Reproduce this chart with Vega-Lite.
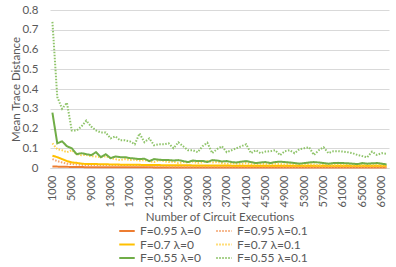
{
  "$schema": "https://vega.github.io/schema/vega-lite/v6.json",
  "autosize": "none",
  "width": 339,
  "height": 158,
  "padding": {"left": 50, "top": 10, "right": 7, "bottom": 99},
  "background": "white",
  "config": {"font": "Lato", "view": {"stroke": null}},
  "data": {"values": [
    {"n":1000,"a":0.008,"b":0.045,"c":0.062,"d":0.125,"e":0.28,"f":0.74},
    {"n":2000,"a":0.007,"b":0.035,"c":0.055,"d":0.095,"e":0.125,"f":0.36},
    {"n":3000,"a":0.006,"b":0.028,"c":0.045,"d":0.09,"e":0.135,"f":0.30},
    {"n":4000,"a":0.006,"b":0.022,"c":0.035,"d":0.08,"e":0.11,"f":0.33},
    {"n":5000,"a":0.005,"b":0.02,"c":0.028,"d":0.09,"e":0.10,"f":0.19},
    {"n":6000,"a":0.005,"b":0.018,"c":0.026,"d":0.07,"e":0.07,"f":0.19},
    {"n":7000,"a":0.005,"b":0.016,"c":0.022,"d":0.065,"e":0.075,"f":0.21},
    {"n":8000,"a":0.004,"b":0.015,"c":0.02,"d":0.066,"e":0.07,"f":0.24},
    {"n":9000,"a":0.004,"b":0.015,"c":0.02,"d":0.06,"e":0.065,"f":0.21},
    {"n":10000,"a":0.004,"b":0.014,"c":0.02,"d":0.058,"e":0.08,"f":0.19},
    {"n":11000,"a":0.004,"b":0.013,"c":0.019,"d":0.055,"e":0.055,"f":0.18},
    {"n":12000,"a":0.004,"b":0.013,"c":0.019,"d":0.06,"e":0.07,"f":0.18},
    {"n":13000,"a":0.004,"b":0.012,"c":0.018,"d":0.05,"e":0.05,"f":0.15},
    {"n":14000,"a":0.004,"b":0.012,"c":0.018,"d":0.045,"e":0.058,"f":0.16},
    {"n":15000,"a":0.004,"b":0.011,"c":0.017,"d":0.04,"e":0.055,"f":0.14},
    {"n":16000,"a":0.004,"b":0.011,"c":0.017,"d":0.045,"e":0.055,"f":0.14},
    {"n":17000,"a":0.004,"b":0.01,"c":0.016,"d":0.04,"e":0.05,"f":0.135},
    {"n":18000,"a":0.004,"b":0.01,"c":0.016,"d":0.042,"e":0.048,"f":0.12},
    {"n":19000,"a":0.004,"b":0.01,"c":0.016,"d":0.038,"e":0.045,"f":0.175},
    {"n":20000,"a":0.004,"b":0.01,"c":0.015,"d":0.04,"e":0.047,"f":0.13},
    {"n":21000,"a":0.004,"b":0.009,"c":0.015,"d":0.035,"e":0.035,"f":0.15},
    {"n":22000,"a":0.003,"b":0.009,"c":0.015,"d":0.03,"e":0.045,"f":0.115},
    {"n":23000,"a":0.003,"b":0.009,"c":0.015,"d":0.04,"e":0.042,"f":0.12},
    {"n":24000,"a":0.003,"b":0.009,"c":0.014,"d":0.035,"e":0.04,"f":0.12},
    {"n":25000,"a":0.003,"b":0.008,"c":0.014,"d":0.03,"e":0.04,"f":0.125},
    {"n":26000,"a":0.003,"b":0.008,"c":0.014,"d":0.032,"e":0.038,"f":0.10},
    {"n":27000,"a":0.003,"b":0.008,"c":0.014,"d":0.025,"e":0.04,"f":0.13},
    {"n":28000,"a":0.003,"b":0.008,"c":0.014,"d":0.03,"e":0.035,"f":0.11},
    {"n":29000,"a":0.003,"b":0.008,"c":0.014,"d":0.028,"e":0.03,"f":0.09},
    {"n":30000,"a":0.003,"b":0.008,"c":0.013,"d":0.032,"e":0.038,"f":0.09},
    {"n":31000,"a":0.003,"b":0.008,"c":0.013,"d":0.025,"e":0.035,"f":0.08},
    {"n":32000,"a":0.003,"b":0.008,"c":0.013,"d":0.03,"e":0.036,"f":0.11},
    {"n":33000,"a":0.003,"b":0.008,"c":0.013,"d":0.035,"e":0.03,"f":0.128},
    {"n":34000,"a":0.003,"b":0.007,"c":0.013,"d":0.028,"e":0.04,"f":0.075},
    {"n":35000,"a":0.003,"b":0.007,"c":0.013,"d":0.03,"e":0.038,"f":0.096},
    {"n":36000,"a":0.003,"b":0.007,"c":0.013,"d":0.025,"e":0.033,"f":0.11},
    {"n":37000,"a":0.003,"b":0.007,"c":0.013,"d":0.02,"e":0.035,"f":0.08},
    {"n":38000,"a":0.003,"b":0.007,"c":0.012,"d":0.025,"e":0.03,"f":0.09},
    {"n":39000,"a":0.003,"b":0.007,"c":0.012,"d":0.022,"e":0.028,"f":0.10},
    {"n":40000,"a":0.003,"b":0.007,"c":0.012,"d":0.02,"e":0.032,"f":0.11},
    {"n":41000,"a":0.003,"b":0.007,"c":0.012,"d":0.025,"e":0.035,"f":0.12},
    {"n":42000,"a":0.003,"b":0.007,"c":0.012,"d":0.02,"e":0.03,"f":0.075},
    {"n":43000,"a":0.003,"b":0.007,"c":0.012,"d":0.018,"e":0.025,"f":0.09},
    {"n":44000,"a":0.003,"b":0.007,"c":0.012,"d":0.022,"e":0.028,"f":0.075},
    {"n":45000,"a":0.003,"b":0.007,"c":0.012,"d":0.02,"e":0.03,"f":0.083},
    {"n":46000,"a":0.003,"b":0.007,"c":0.012,"d":0.018,"e":0.025,"f":0.085},
    {"n":47000,"a":0.003,"b":0.007,"c":0.012,"d":0.022,"e":0.03,"f":0.09},
    {"n":48000,"a":0.003,"b":0.007,"c":0.012,"d":0.02,"e":0.032,"f":0.065},
    {"n":49000,"a":0.003,"b":0.006,"c":0.012,"d":0.018,"e":0.03,"f":0.085},
    {"n":50000,"a":0.003,"b":0.006,"c":0.012,"d":0.022,"e":0.028,"f":0.09},
    {"n":51000,"a":0.003,"b":0.006,"c":0.011,"d":0.018,"e":0.025,"f":0.075},
    {"n":52000,"a":0.003,"b":0.006,"c":0.011,"d":0.02,"e":0.022,"f":0.095},
    {"n":53000,"a":0.003,"b":0.006,"c":0.011,"d":0.016,"e":0.025,"f":0.10},
    {"n":54000,"a":0.003,"b":0.006,"c":0.011,"d":0.02,"e":0.028,"f":0.105},
    {"n":55000,"a":0.003,"b":0.006,"c":0.011,"d":0.018,"e":0.03,"f":0.066},
    {"n":56000,"a":0.003,"b":0.006,"c":0.011,"d":0.015,"e":0.028,"f":0.09},
    {"n":57000,"a":0.003,"b":0.006,"c":0.011,"d":0.02,"e":0.025,"f":0.105},
    {"n":58000,"a":0.003,"b":0.006,"c":0.011,"d":0.018,"e":0.022,"f":0.075},
    {"n":59000,"a":0.003,"b":0.006,"c":0.011,"d":0.015,"e":0.025,"f":0.085},
    {"n":60000,"a":0.003,"b":0.006,"c":0.011,"d":0.018,"e":0.026,"f":0.085},
    {"n":61000,"a":0.003,"b":0.006,"c":0.011,"d":0.016,"e":0.025,"f":0.083},
    {"n":62000,"a":0.003,"b":0.006,"c":0.011,"d":0.02,"e":0.024,"f":0.08},
    {"n":63000,"a":0.003,"b":0.006,"c":0.011,"d":0.015,"e":0.022,"f":0.075},
    {"n":64000,"a":0.003,"b":0.006,"c":0.011,"d":0.018,"e":0.02,"f":0.066},
    {"n":65000,"a":0.003,"b":0.006,"c":0.011,"d":0.015,"e":0.025,"f":0.06},
    {"n":66000,"a":0.003,"b":0.006,"c":0.011,"d":0.02,"e":0.022,"f":0.054},
    {"n":67000,"a":0.003,"b":0.006,"c":0.011,"d":0.016,"e":0.024,"f":0.083},
    {"n":68000,"a":0.003,"b":0.006,"c":0.011,"d":0.018,"e":0.025,"f":0.066},
    {"n":69000,"a":0.003,"b":0.006,"c":0.011,"d":0.015,"e":0.022,"f":0.075},
    {"n":70000,"a":0.003,"b":0.006,"c":0.011,"d":0.016,"e":0.018,"f":0.072}
  ]},
  "transform": [{"fold": ["a","b","c","d","e","f"], "as": ["series","value"]}],
  "mark": {"type": "line", "strokeWidth": 2},
  "encoding": {
    "x": {
      "field": "n", "type": "ordinal",
      "scale": {"type": "point", "padding": 0.5},
      "axis": {
        "title": "Number of Circuit Executions",
        "values": [1000,5000,9000,13000,17000,21000,25000,29000,33000,37000,41000,45000,49000,53000,57000,61000,65000,69000],
        "labelAngle": -90, "labelAlign": "right", "labelBaseline": "middle",
        "labelFontSize": 11, "labelColor": "#595959", "labelPadding": 7,
        "ticks": false, "domainColor": "#D9D9D9", "grid": false,
        "titleFontSize": 11.5, "titleFontWeight": "normal", "titleColor": "#595959", "titlePadding": 5
      }
    },
    "y": {
      "field": "value", "type": "quantitative",
      "scale": {"domain": [0, 0.8], "nice": false},
      "axis": {
        "title": "Mean Trace Distance",
        "values": [0,0.1,0.2,0.3,0.4,0.5,0.6,0.7,0.8],
        "format": "~g",
        "labelFontSize": 11.5, "labelColor": "#595959", "labelPadding": 12,
        "ticks": false, "domain": false, "gridColor": "#D9D9D9",
        "titleFontSize": 11.5, "titleFontWeight": "normal", "titleColor": "#595959", "titlePadding": 0
      }
    },
    "color": {
      "field": "series", "type": "nominal",
      "scale": {"domain": ["a","c","e","b","d","f"], "range": ["#ED7D31","#FFC000","#70AD47","#F4A46E","#FFD24D","#8FC46A"]},
      "legend": {
        "title": null, "orient": "none", "legendX": 68, "legendY": 215, "columns": 2,
        "columnPadding": 14, "rowPadding": 1.5, "clipHeight": 12,
        "symbolType": "stroke", "symbolSize": 240, "symbolStrokeWidth": 2,
        "labelFontSize": 12, "labelColor": "#595959",
        "labelExpr": "datum.label == 'a' ? 'F=0.95 λ=0' : datum.label == 'b' ? 'F=0.95 λ=0.1' : datum.label == 'c' ? 'F=0.7 λ=0' : datum.label == 'd' ? 'F=0.7 λ=0.1' : datum.label == 'e' ? 'F=0.55 λ=0' : 'F=0.55 λ=0.1'"
      }
    },
    "strokeDash": {
      "field": "series", "type": "nominal",
      "scale": {"domain": ["a","c","e","b","d","f"], "range": [[1,0],[1,0],[1,0],[1.5,1.5],[1.5,1.5],[1.5,1.5]]},
      "legend": {
        "title": null, "orient": "none", "legendX": 68, "legendY": 215, "columns": 2,
        "columnPadding": 14, "rowPadding": 1.5, "clipHeight": 12,
        "symbolType": "stroke", "symbolSize": 240, "symbolStrokeWidth": 2,
        "labelFontSize": 12, "labelColor": "#595959",
        "labelExpr": "datum.label == 'a' ? 'F=0.95 λ=0' : datum.label == 'b' ? 'F=0.95 λ=0.1' : datum.label == 'c' ? 'F=0.7 λ=0' : datum.label == 'd' ? 'F=0.7 λ=0.1' : datum.label == 'e' ? 'F=0.55 λ=0' : 'F=0.55 λ=0.1'"
      }
    },
    "strokeWidth": {
      "field": "series", "type": "nominal",
      "scale": {"domain": ["a","c","e","b","d","f"], "range": [2,2,2,1.5,1.5,1.5]},
      "legend": null
    }
  }
}
